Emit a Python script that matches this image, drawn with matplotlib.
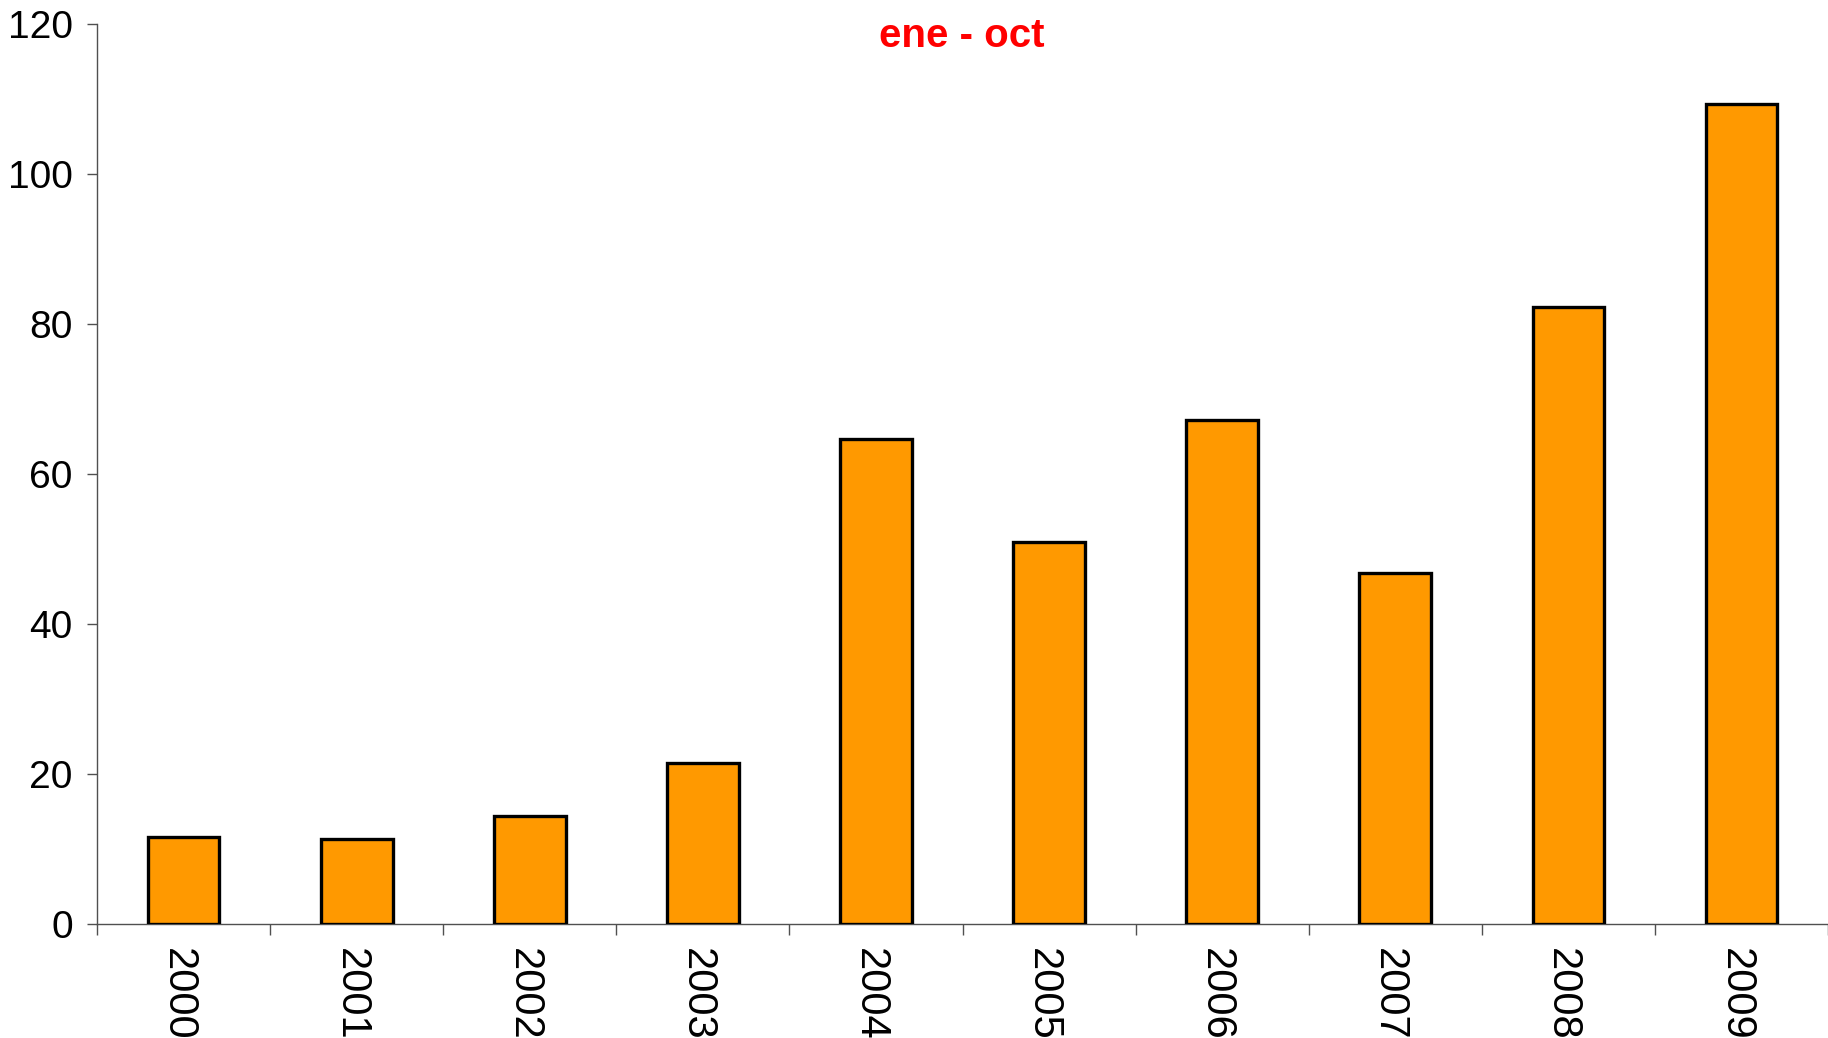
import matplotlib
matplotlib.use("Agg")
import matplotlib.pyplot as plt
import matplotlib.transforms as mtransforms
import numpy as np

plt.rcParams['font.family'] = ['Liberation Sans', 'DejaVu Sans']

years = ['2000', '2001', '2002', '2003', '2004', '2005', '2006', '2007', '2008', '2009']
values = [11.6, 11.3, 14.4, 21.5, 64.7, 51.0, 67.2, 46.8, 82.3, 109.3]
title = 'ene - oct'

fig = plt.figure(figsize=(18.28, 10.38), dpi=100)
ax = fig.add_axes([0.0531, 0.1098, 0.9469, 0.8671])

x = np.arange(len(years))
ax.bar(x, values, width=0.414, color='#FF9900', edgecolor='black', linewidth=2.4, zorder=3)

ax.set_xlim(-0.5, len(years) - 0.5)
ax.set_ylim(0, 120)
ax.set_yticks(range(0, 121, 20))

# ticks at category boundaries, labels at the centres
ax.set_xticks(np.arange(-0.5, len(years), 1.0))
ax.set_xticklabels([])
ax.set_xticks(x, minor=True)
ax.set_xticklabels(years, minor=True, rotation=-90, fontsize=30)
ax.tick_params(axis='x', which='minor', length=0, pad=17)
ax.tick_params(axis='x', which='major', length=8, width=1, color='#505050', direction='out')
ax.tick_params(axis='y', length=7.5, width=1, color='#505050', pad=10, labelsize=28)

shift = mtransforms.ScaledTranslation(-6 / 100, 0, fig.dpi_scale_trans)
for lab in ax.get_xticklabels(minor=True):
    lab.set_transform(lab.get_transform() + shift)

for s in ['top', 'right']:
    ax.spines[s].set_visible(False)
for s in ['left', 'bottom']:
    ax.spines[s].set_color('#505050')
    ax.spines[s].set_linewidth(1.0)

fig.text(0.526, 0.965, title, color='red', fontsize=29, fontweight='bold',
         ha='center', va='center')

fig.savefig('out.png', dpi=100)
